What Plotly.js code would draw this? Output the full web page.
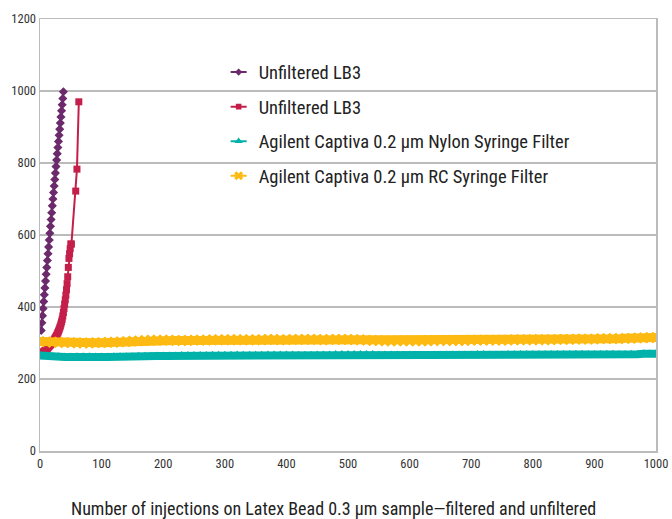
<!DOCTYPE html>
<html><head><meta charset="utf-8">
<script src="https://cdn.plot.ly/plotly-3.0.1.min.js"></script>
<style>html,body{margin:0;padding:0;background:#fff}#chart{width:672px;height:519px}</style>
</head><body><div id="chart"></div>
<script>
const seriesNames = ["Unfiltered LB3","Unfiltered LB3","Agilent Captiva 0.2 µm Nylon Syringe Filter","Agilent Captiva 0.2 µm RC Syringe Filter"];
const xTickVals = [0,100,200,300,400,500,600,700,800,900,1000];
const yTickVals = [0,200,400,600,800,1000,1200];

const purpleX = [2,3,4,5,6,7,8,9,10,11,12,13,14,15,16,17,18,19,20,21,22,23,24,25,26,27,28,29,30,31,32,33,34,35,36,37,38];
const purpleY = [335,356,376,396,415,434,453,472,491,510,529,548,567,586,605,624,643,662,681,700,718,736,754,772,790,808,826,843,860,877,894,911,928,945,962,979,998];

const redX = [0,1,2,3,4,5,6,7,8,9,10,11,12,13,14,15,16,17,18,19,20,21,22,23,24,25,26,27,28,29,30,31,32,33,34,35,36,37,38,39,40,41,42,43,44,45,46,47,48,49,50,51,58,60,63];
const redY = [265,267,269,271,273,274,276,277,279,280,282,283,285,287,289,291,293,295,297,299,301,303,306,309,312,315,318,321,325,329,333,337,342,347,353,359,366,375,385,396,408,420,433,448,465,484,510,535,548,562,575,575,722,783,970];

const filterX = [0,10,20,30,40,50,60,70,80,90,100,110,120,130,140,150,160,170,180,190,200,210,220,230,240,250,260,270,280,290,300,310,320,330,340,350,360,370,380,390,400,410,420,430,440,450,460,470,480,490,500,510,520,530,540,550,560,570,580,590,600,610,620,630,640,650,660,670,680,690,700,710,720,730,740,750,760,770,780,790,800,810,820,830,840,850,860,870,880,890,900,910,920,930,940,950,960,970,980,990,1000];
const nylonY = [265,263,262,262,261,261,262,262,262,261,261,
 261,262,262,262,262,263,263,263,264,264,
 264,264,265,265,265,265,265,266,266,266,
 266,267,266,266,266,266,267,267,267,267,
 267,266,266,266,267,267,267,268,268,268,
 268,268,268,268,267,267,267,267,266,266,
 266,266,265,266,266,267,267,267,267,267,
 268,268,267,267,267,268,268,268,268,268,
 268,268,268,268,268,268,269,269,268,268,
 268,269,269,268,268,269,269,270,270,270];
const rcY = [304,303,302,302,301,301,300,300,300,301,301,
 302,302,303,304,305,306,307,308,308,308,
 308,307,307,307,308,308,308,309,309,309,
 309,309,309,309,309,309,310,310,309,309,
 310,310,310,310,310,309,310,310,310,310,
 309,309,308,307,307,306,306,306,306,306,
 306,306,306,307,307,307,307,307,307,308,
 308,308,308,308,308,308,309,309,309,309,
 309,309,309,310,310,310,311,311,311,311,
 312,312,312,312,313,313,314,314,315,315];

const FONT = '"Liberation Sans Narrow","Roboto Condensed","Liberation Sans",sans-serif';
const traces = [
 {x: purpleX, y: purpleY, name: seriesNames[0], legendgroup:'a', mode:'lines+markers',
  line:{color:'#6B2A6B', width:2}, marker:{symbol:'diamond', size:7, color:'#6B2A6B'}},
 {x: redX, y: redY, name: seriesNames[1], legendgroup:'b', mode:'lines+markers',
  line:{color:'#C41F4A', width:2}, marker:{symbol:'square', size:7, color:'#C41F4A'}},
 {x: filterX, y: nylonY, name: seriesNames[2], legendgroup:'c', mode:'lines+markers',
  line:{color:'#00B2A9', width:8}, marker:{symbol:'triangle-up', size:9, color:'#00B2A9'}},
 {x: filterX, y: rcY, name: seriesNames[3], legendgroup:'d', mode:'lines+markers',
  line:{color:'#FDBA12', width:9}, marker:{symbol:'x', size:10, color:'#FDBA12'}}
];

const layout = {
 width:672, height:519,
 margin:{l:40, r:16, t:19, b:68},
 paper_bgcolor:'#fff', plot_bgcolor:'#fff',
 font:{family:FONT, color:'#333', size:12},
 showlegend:true,
 legend:{x:0.29, y:0.92, xanchor:'left', yanchor:'top', bgcolor:'rgba(0,0,0,0)',
   font:{family:FONT, size:18.5, color:'#222'}, tracegroupgap:7.5, traceorder:'grouped', itemwidth:30},
 xaxis:{range:[0,1000], tickvals:xTickVals, ticks:'', showgrid:false, zeroline:false,
   showline:true, mirror:true, linecolor:'#BBBBBB', linewidth:1.5,
   tickfont:{family:FONT, size:12.5, color:'#333'}, fixedrange:true},
 yaxis:{range:[0,1200], tickvals:yTickVals, ticks:'', showgrid:true, gridcolor:'#BBBBBB', gridwidth:1.5,
   zeroline:false, showline:true, mirror:true, linecolor:'#BBBBBB', linewidth:1.5,
   tickfont:{family:FONT, size:12.5, color:'#333'}, fixedrange:true},
 annotations:[{text:'Number of injections on Latex Bead 0.3 µm sample—filtered and unfiltered',
   xref:'paper', yref:'paper', x:0.477, y:-0.133, xanchor:'center', yanchor:'middle', showarrow:false,
   font:{family:FONT, size:18, color:'#222'}}]
};
Plotly.newPlot('chart', traces, layout, {displayModeBar:false, staticPlot:true}).then(function(gd){
  document.querySelectorAll('.legend .legendlines path').forEach(function(p){
    p.setAttribute('d','M12,0h16'); p.style.strokeWidth = '2px';
  });
  document.querySelectorAll('.legend .legendpoints path').forEach(function(p){
    p.setAttribute('transform', (p.getAttribute('transform')||'') + ' scale(0.8)');
  });
});
</script></body></html>
